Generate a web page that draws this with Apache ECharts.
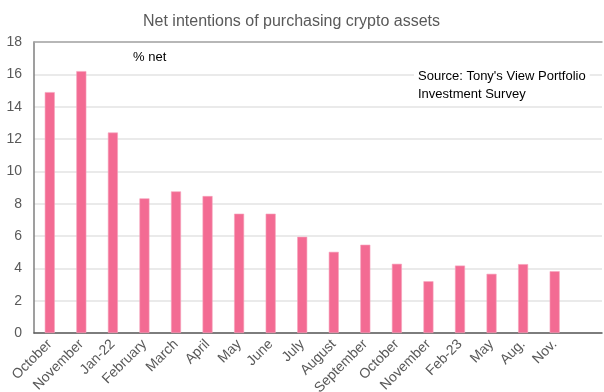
<!DOCTYPE html>
<html>
<head>
<meta charset="utf-8">
<script src="https://cdn.jsdelivr.net/npm/echarts@6/dist/echarts.min.js"></script>
<style>
  html, body { margin: 0; padding: 0; background: #fff; overflow: hidden; }
  #chart { width: 604px; height: 392px; }
</style>
</head>
<body>
<div id="chart"></div>
<script>
// Survey rounds (the trailing blank slot leaves room at the right end of the axis)
const categories = ['October', 'November', 'Jan-22', 'February', 'March', 'April', 'May', 'June',
  'July', 'August', 'September', 'October', 'November', 'Feb-23', 'May', 'Aug.', 'Nov.', ''];
// Net share of respondents intending to buy crypto assets, % net
const netIntentions = [14.9, 16.2, 12.4, 8.33, 8.76, 8.47, 7.38, 7.38,
  5.95, 5.02, 5.46, 4.28, 3.2, 4.17, 3.66, 4.26, 3.82, null];
const yTicks = { min: 0, max: 18, step: 2 };

const titleText = 'Net intentions of purchasing crypto assets';
const unitText = '% net';
const sourceLines = ["Source: Tony's View Portfolio", 'Investment Survey'];

const font = '"Liberation Sans", Arial, sans-serif';
const chart = echarts.init(document.getElementById('chart'), null, { renderer: 'canvas' });

chart.setOption({
  animation: false,
  backgroundColor: '#ffffff',
  textStyle: { fontFamily: font },
  title: {
    text: titleText,
    left: 138,
    top: 9,
    textStyle: { fontSize: 16, fontWeight: 'normal', color: '#595959', fontFamily: font }
  },
  grid: {
    show: false,
    left: 34, right: 2, top: 42, bottom: 59,
    containLabel: false,
    outerBoundsMode: 'none'
  },
  xAxis: [{
    type: 'category',
    data: categories,
    boundaryGap: true,
    axisLine: { show: true, lineStyle: { color: '#595959', width: 1.5 } },
    axisTick: { show: false },
    axisLabel: {
      interval: 0,
      rotate: 45,
      margin: 9,
      fontSize: 14,
      color: '#595959',
      fontFamily: font
    },
    splitLine: { show: false },
    splitArea: { show: false }
  }, {
    // top border of the plot area
    type: 'category',
    position: 'top',
    data: categories,
    axisLine: { show: true, lineStyle: { color: '#a6a6a6', width: 1.5 } },
    axisTick: { show: false },
    axisLabel: { show: false },
    splitLine: { show: false },
    splitArea: { show: false }
  }],
  yAxis: {
    type: 'value',
    min: yTicks.min,
    max: yTicks.max,
    interval: yTicks.step,
    axisLine: { show: true, lineStyle: { color: '#7f7f7f', width: 1.5 } },
    axisTick: { show: false },
    axisLabel: { fontSize: 14, color: '#595959', margin: 12, fontFamily: font },
    splitLine: { show: true, lineStyle: { color: '#e3e3e3', width: 1.5 } }
  },
  series: [{
    type: 'bar',
    xAxisIndex: 0,
    data: netIntentions,
    barWidth: 10,
    itemStyle: { color: '#F36B93', borderColor: '#F7A3BC', borderWidth: 0.6 }
  }],
  graphic: [
    {
      type: 'text',
      left: 133,
      top: 51,
      style: { text: unitText, font: '13px ' + font, fill: '#000000' }
    },
    {
      // source note sits in a white box that masks the gridline behind it
      type: 'text',
      left: 414,
      top: 66,
      z: 10,
      style: {
        text: sourceLines.join('\n'),
        font: '13px ' + font,
        lineHeight: 18,
        fill: '#000000',
        backgroundColor: '#ffffff',
        padding: [1, 4, 1, 4]
      }
    }
  ]
});
</script>
</body>
</html>
